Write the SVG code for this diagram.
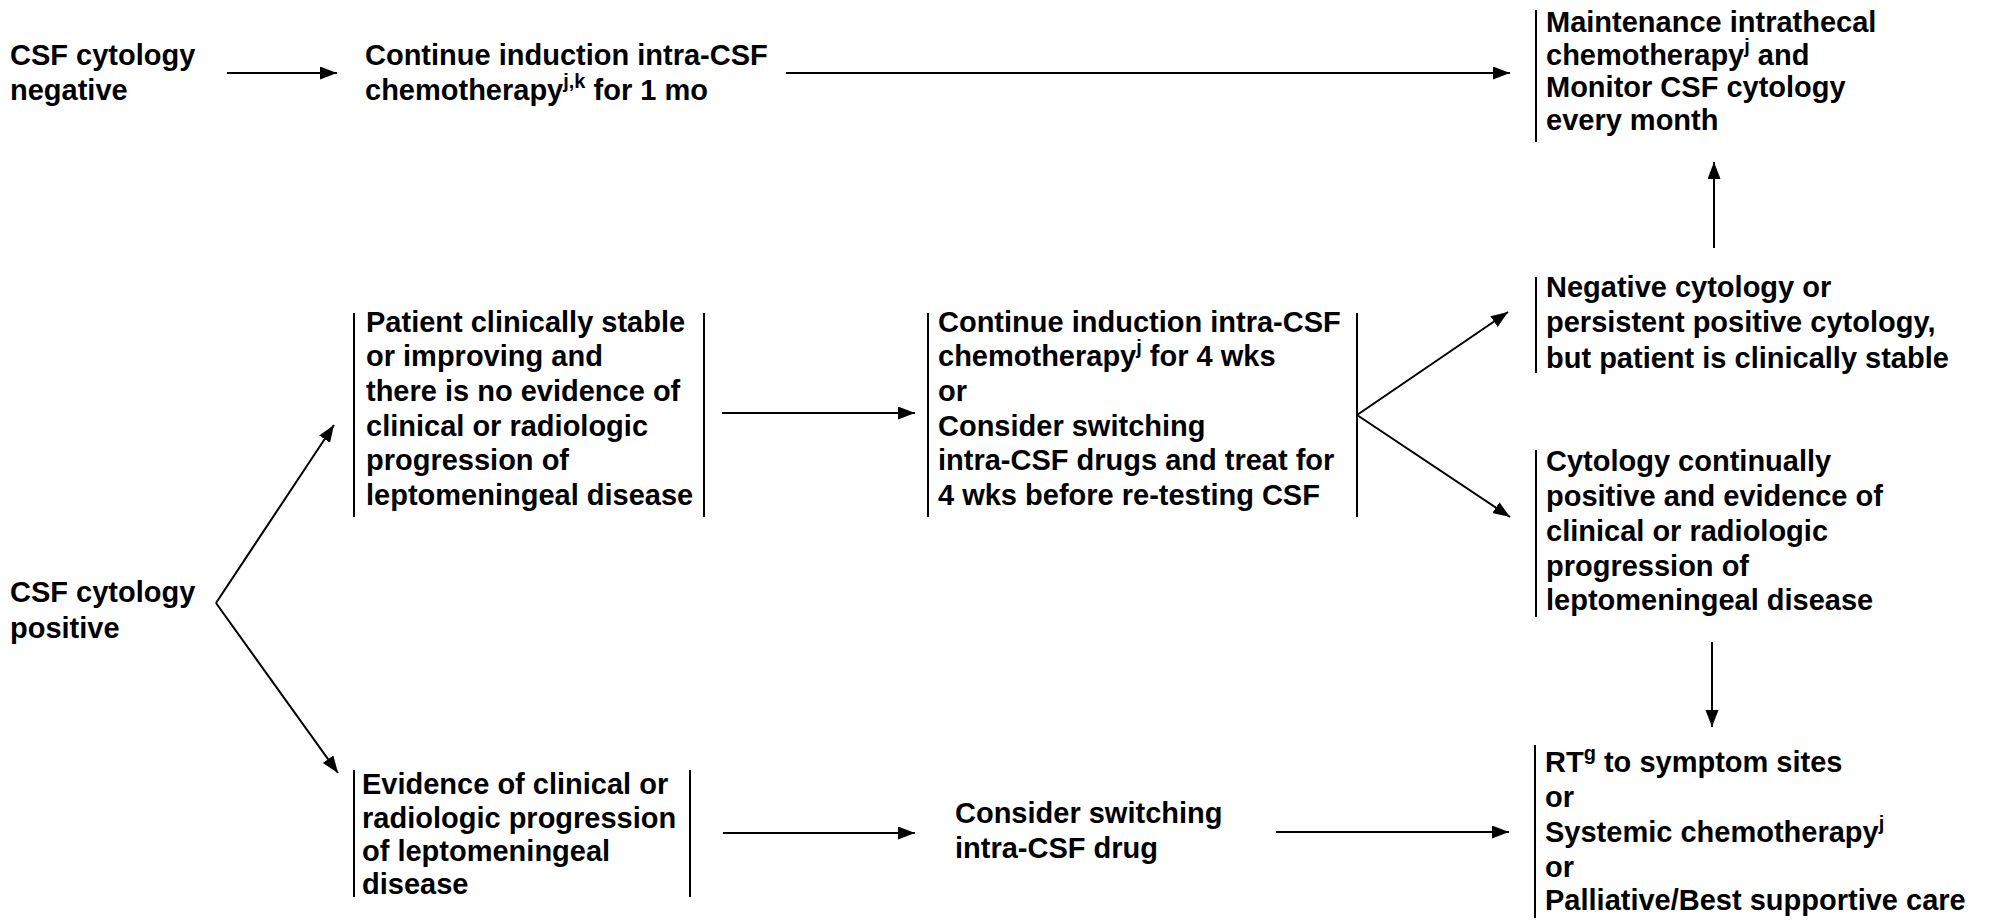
<svg xmlns="http://www.w3.org/2000/svg" width="1990" height="920" viewBox="0 0 1990 920">
  <style>
    .t { font-family: "Liberation Sans", Arial, sans-serif; font-weight: bold; font-size: 29px; fill: #000; }
    .sup { font-size: 20px; }
    .bar { stroke: #000; stroke-width: 2; fill: none; }
    .conn { stroke: #000; stroke-width: 2; fill: none; marker-end: url(#arrow); }
  </style>
  <defs>
    <marker id="arrow" markerUnits="userSpaceOnUse" markerWidth="18" markerHeight="14" refX="17" refY="6.5" orient="auto">
      <path d="M0,0 L17,6.5 L0,13 z" fill="#000"/>
    </marker>
  </defs>
  <rect width="1990" height="920" fill="#fff"/>

  <!-- Top row: negative cytology -->
  <g id="csf-negative">
    <text class="t"><tspan x="10" y="65">CSF cytology</tspan><tspan x="10" y="100">negative</tspan></text>
  </g>
  <g id="continue-1mo">
    <text class="t"><tspan x="365" y="65">Continue induction intra-CSF</tspan><tspan x="365" y="100">chemotherapy<tspan class="sup" dy="-12">j,k</tspan><tspan dy="12"> for 1 mo</tspan></tspan></text>
  </g>
  <g id="maintenance">
    <line class="bar" x1="1536" y1="10" x2="1536" y2="142"/>
    <text class="t"><tspan x="1546" y="32">Maintenance intrathecal</tspan><tspan x="1546" y="65">chemotherapy<tspan class="sup" dy="-12">j</tspan><tspan dy="12"> and</tspan></tspan><tspan x="1546" y="97">Monitor CSF cytology</tspan><tspan x="1546" y="130">every month</tspan></text>
  </g>

  <!-- Positive cytology branch -->
  <g id="csf-positive">
    <text class="t"><tspan x="10" y="602">CSF cytology</tspan><tspan x="10" y="638">positive</tspan></text>
  </g>
  <g id="stable">
    <line class="bar" x1="354" y1="313" x2="354" y2="517"/>
    <line class="bar" x1="704" y1="313" x2="704" y2="517"/>
    <text class="t"><tspan x="366" y="332">Patient clinically stable</tspan><tspan x="366" y="366">or improving and</tspan><tspan x="366" y="401">there is no evidence of</tspan><tspan x="366" y="436">clinical or radiologic</tspan><tspan x="366" y="470">progression of</tspan><tspan x="366" y="505">leptomeningeal disease</tspan></text>
  </g>
  <g id="continue-4wks">
    <line class="bar" x1="928" y1="313" x2="928" y2="517"/>
    <line class="bar" x1="1357" y1="313" x2="1357" y2="517"/>
    <text class="t"><tspan x="938" y="332">Continue induction intra-CSF</tspan><tspan x="938" y="366">chemotherapy<tspan class="sup" dy="-12">j</tspan><tspan dy="12"> for 4 wks</tspan></tspan><tspan x="938" y="401">or</tspan><tspan x="938" y="436">Consider switching</tspan><tspan x="938" y="470">intra-CSF drugs and treat for</tspan><tspan x="938" y="505">4 wks before re-testing CSF</tspan></text>
  </g>
  <g id="negative-or-stable">
    <line class="bar" x1="1536" y1="277" x2="1536" y2="373"/>
    <text class="t"><tspan x="1546" y="297">Negative cytology or</tspan><tspan x="1546" y="332">persistent positive cytology,</tspan><tspan x="1546" y="368">but patient is clinically stable</tspan></text>
  </g>
  <g id="continually-positive">
    <line class="bar" x1="1536" y1="450" x2="1536" y2="617"/>
    <text class="t"><tspan x="1546" y="471">Cytology continually</tspan><tspan x="1546" y="506">positive and evidence of</tspan><tspan x="1546" y="541">clinical or radiologic</tspan><tspan x="1546" y="576">progression of</tspan><tspan x="1546" y="610">leptomeningeal disease</tspan></text>
  </g>
  <g id="progression">
    <line class="bar" x1="354" y1="770" x2="354" y2="897"/>
    <line class="bar" x1="690" y1="770" x2="690" y2="897"/>
    <text class="t"><tspan x="362" y="794">Evidence of clinical or</tspan><tspan x="362" y="828">radiologic progression</tspan><tspan x="362" y="861">of leptomeningeal</tspan><tspan x="362" y="894">disease</tspan></text>
  </g>
  <g id="switch-drug">
    <text class="t"><tspan x="955" y="823">Consider switching</tspan><tspan x="955" y="858">intra-CSF drug</tspan></text>
  </g>
  <g id="salvage">
    <line class="bar" x1="1535" y1="745" x2="1535" y2="918"/>
    <text class="t"><tspan x="1545" y="772">RT<tspan class="sup" dy="-12">g</tspan><tspan dy="12"> to symptom sites</tspan></tspan><tspan x="1545" y="807">or</tspan><tspan x="1545" y="842">Systemic chemotherapy<tspan class="sup" dy="-12">j</tspan></tspan><tspan x="1545" y="877">or</tspan><tspan x="1545" y="910">Palliative/Best supportive care</tspan></text>
  </g>

  <!-- Connectors -->
  <g id="connectors">
    <path class="conn" d="M227,73 H337"/>
    <path class="conn" d="M786,73 H1510"/>
    <path class="conn" d="M1714,248 V162"/>
    <path class="conn" d="M216,603 L334,425"/>
    <path class="conn" d="M216,603 L338,773"/>
    <path class="conn" d="M722,413 H915"/>
    <path class="conn" d="M1357,415 L1508,312"/>
    <path class="conn" d="M1357,415 L1510,517"/>
    <path class="conn" d="M1712,642 V727"/>
    <path class="conn" d="M723,833 H915"/>
    <path class="conn" d="M1276,832 H1509"/>
  </g>
</svg>
